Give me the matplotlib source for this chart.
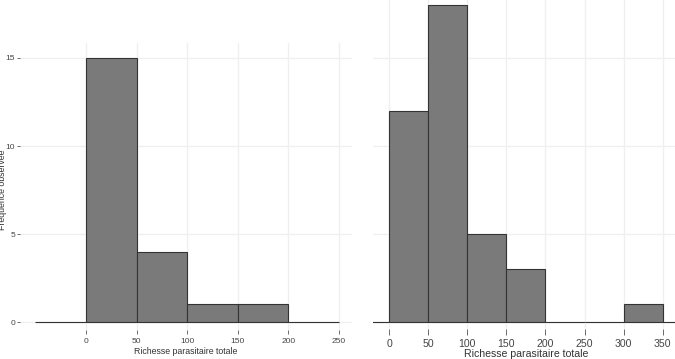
import matplotlib
matplotlib.use("Agg")
import matplotlib.pyplot as plt
import numpy as np

plt.rcParams['font.family'] = ['Liberation Sans', 'DejaVu Sans']

# Left histogram
left_edges = [-50, 0, 50, 100, 150, 200]
left_counts = [0, 15, 4, 1, 1, 0]
left_xticks = [0, 50, 100, 150, 200, 250]
left_yticks = [0, 5, 10, 15]

# Right histogram
right_edges = [-50, 0, 50, 100, 150, 200, 250, 300, 350]
right_counts = [0, 12, 18, 5, 3, 0, 0, 1, 0]
right_xticks = [0, 50, 100, 150, 200, 250, 300, 350]

xlabel = "Richesse parasitaire totale"
ylabel = "Fréquence observée"
binw = 50

W, H = 675, 359
fig = plt.figure(figsize=(W / 100, H / 100), dpi=100)

def add_ax(x0, y0, x1, y1):
    return fig.add_axes([x0 / W, 1 - y1 / H, (x1 - x0) / W, (y1 - y0) / H])

grid_c = '#efefef'
fill_c = '#7a7a7a'
edge_c = '#333333'
tick_c = '#555555'

# Left panel
axL = add_ax(20, 43, 352, 330)
axL.bar(left_edges, left_counts, width=binw, align='edge', color=fill_c,
        edgecolor=edge_c, linewidth=0.8, zorder=3)
axL.set_xlim(-65.2, 262.8)
axL.set_ylim(-0.45, 15.85)
axL.set_xticks(left_xticks)
axL.set_yticks(left_yticks)
axL.grid(True, color=grid_c, linewidth=0.9, zorder=0)
axL.tick_params(axis='x', length=3, width=0.6, color=tick_c, labelsize=6,
                labelcolor='#444444', pad=3)
axL.tick_params(axis='y', length=2, width=0.6, color=tick_c, labelsize=6,
                labelcolor='#444444', pad=1.5)
axL.set_xlabel(xlabel, fontsize=6.3, color='#333333', labelpad=1.5)
for s in axL.spines.values():
    s.set_visible(False)
fig.text(3 / W, 1 - 190 / H, ylabel, rotation=90, va='center', ha='center',
         fontsize=6.3, color='#333333')

# Right panel
axR = add_ax(373, 0, 680, 329)
axR.bar(right_edges, right_counts, width=binw, align='edge', color=fill_c,
        edgecolor=edge_c, linewidth=0.8, zorder=3)
axR.set_xlim(-20.5, 372)
axR.set_ylim(-0.4, 18.3)
axR.set_xticks(right_xticks)
axR.set_yticks(left_yticks)
axR.set_yticklabels([])
axR.grid(True, color=grid_c, linewidth=0.9, zorder=0)
axR.tick_params(axis='x', length=4, width=0.6, color=tick_c, labelsize=7.6,
                labelcolor='#444444', pad=3)
axR.tick_params(axis='y', length=0)
axR.set_xlabel(xlabel, fontsize=7.6, color='#333333', labelpad=0.5)
for s in axR.spines.values():
    s.set_visible(False)

fig.savefig("out.png", dpi=100, facecolor='white')
